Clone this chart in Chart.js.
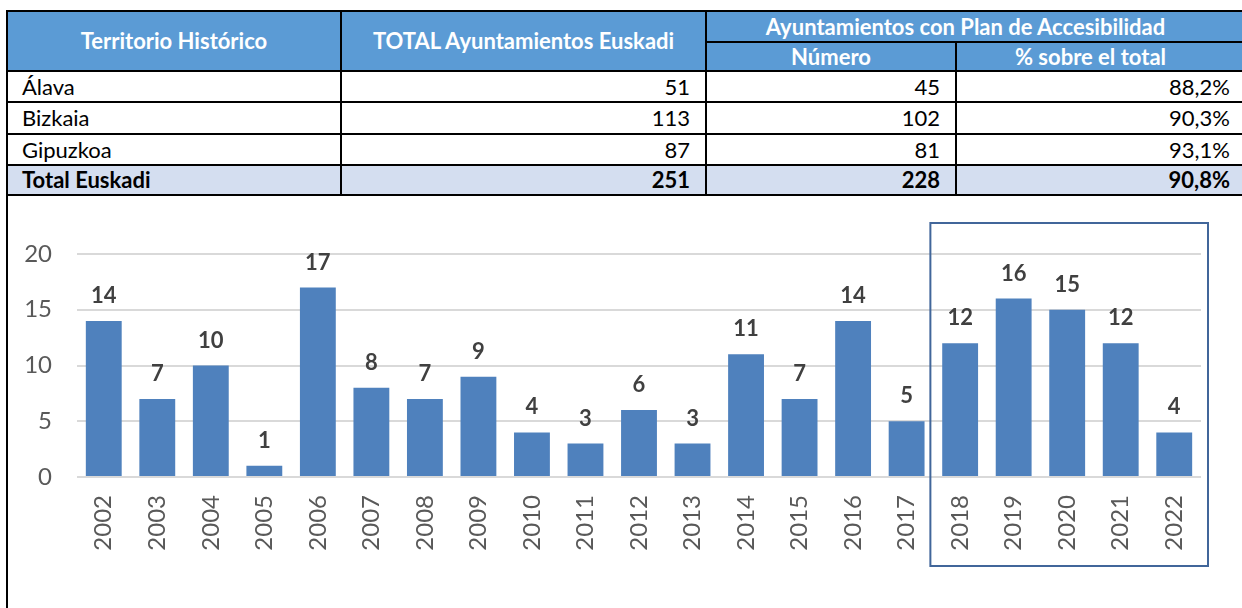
<!DOCTYPE html>
<html>
<head>
<meta charset="utf-8">
<script src="https://cdn.jsdelivr.net/npm/chart.js@4"></script>
<style>
  html { overflow:hidden; }
  html, body { margin:0; padding:0; background:#fff; }
  body { width:1242px; height:608px; overflow:hidden; position:relative; font-family: Lato, "Open Sans", sans-serif; }
  #tw { position:absolute; left:6px; top:10px; width:1300px; }
  table { border-collapse:collapse; table-layout:fixed; width:1258px; }
  td, th { border:2px solid #000; padding:0; font-size:22px; color:#000; white-space:nowrap; overflow:hidden; line-height:1; }
  th { background:#5B9BD5; color:#fff; font-weight:bold; text-align:center; }
  td.l { text-align:left; padding-left:14px; }
  td.r { text-align:right; padding-right:15px; }
  td.p { text-align:right; padding-right:34px; }
  tr.tot td { background:#D4DEF0; font-weight:bold; }
  #chartwrap { position:absolute; left:0; top:194px; width:1242px; height:414px; }
  #leftline { position:absolute; left:6px; top:194px; width:2px; height:414px; background:#000; }
</style>
</head>
<body>
<div id="tw">
<table id="tbl">
  <colgroup><col style="width:334px"><col style="width:365px"><col style="width:250px"><col style="width:309px"></colgroup>
  <tr style="height:31px">
    <th rowspan="2" id="h0"></th>
    <th rowspan="2" id="h1"></th>
    <th colspan="2" id="h2" style="padding-right:40px"></th>
  </tr>
  <tr style="height:29px">
    <th id="h3"></th>
    <th id="h4" style="padding-right:40px"></th>
  </tr>
  <tbody id="tb"></tbody>
</table>
</div>
<div id="leftline"></div>
<div id="chartwrap"><canvas id="c" width="1242" height="414"></canvas></div>
<script>
// ---- table data ----
const tableHeaders = ["Territorio Histórico", "TOTAL Ayuntamientos Euskadi", "Ayuntamientos con Plan de Accesibilidad", "Número", "% sobre el total"];
const territorios = ["Álava", "Bizkaia", "Gipuzkoa", "Total Euskadi"];
const totalAyuntamientos = ["51", "113", "87", "251"];
const numeroPlan = ["45", "102", "81", "228"];
const porcentaje = ["88,2%", "90,3%", "93,1%", "90,8%"];

// ---- chart data ----
const years = ["2002","2003","2004","2005","2006","2007","2008","2009","2010","2011","2012","2013","2014","2015","2016","2017","2018","2019","2020","2021","2022"];
const planes = [14,7,10,1,17,8,7,9,4,3,6,3,11,7,14,5,12,16,15,12,4];
const yTicks = [0,5,10,15,20];
const highlightFrom = "2018";
const highlightTo = "2022";

tableHeaders.forEach((t,i)=>{ document.getElementById('h'+i).textContent = t; });
const tb = document.getElementById('tb');
territorios.forEach((t,i)=>{
  const tr = document.createElement('tr');
  tr.style.height = (i===1 ? '32px' : '31px');
  if (i === territorios.length-1) { tr.className = 'tot'; tr.style.height='30px'; }
  [[t,'l'],[totalAyuntamientos[i],'r'],[numeroPlan[i],'r'],[porcentaje[i],'p']].forEach(([v,c])=>{
    const td = document.createElement('td'); td.className = c; td.textContent = v; tr.appendChild(td);
  });
  tb.appendChild(tr);
});

const labelPlugin = {
  id: 'barLabels',
  afterDatasetsDraw(chart) {
    const ctx = chart.ctx;
    const meta = chart.getDatasetMeta(0);
    ctx.save();
    ctx.font = 'bold 22px Lato, "Open Sans", sans-serif';
    ctx.fillStyle = '#404040';
    ctx.textAlign = 'center';
    ctx.textBaseline = 'middle';
    meta.data.forEach((bar, i) => {
      ctx.fillText(String(planes[i]), bar.x, bar.y - 25);
    });
    ctx.restore();
  }
};

const boxPlugin = {
  id: 'highlightBox',
  afterDraw(chart) {
    const x = chart.scales.x, area = chart.chartArea;
    const i0 = years.indexOf(highlightFrom), i1 = years.indexOf(highlightTo);
    const half = (x.getPixelForValue(1) - x.getPixelForValue(0)) / 2;
    const left = x.getPixelForValue(i0) - half - 3;
    const right = x.getPixelForValue(i1) + half + 7;
    const top = area.top - 31;
    const bottom = area.bottom + 89;
    const ctx = chart.ctx;
    ctx.save();
    ctx.strokeStyle = '#41669A';
    ctx.lineWidth = 2;
    ctx.strokeRect(left, top, right - left, bottom - top);
    ctx.restore();
  }
};

new Chart(document.getElementById('c'), {
  type: 'bar',
  data: {
    labels: years,
    datasets: [{
      data: planes,
      backgroundColor: '#4F81BD',
      borderWidth: 0,
      barPercentage: 0.67,
      categoryPercentage: 1.0
    }]
  },
  options: {
    responsive: false,
    animation: false,
    events: [],
    layout: { padding: { left: 0, top: 60, right: 41, bottom: 0 } },
    plugins: { legend: { display: false }, tooltip: { enabled: false } },
    scales: {
      x: {
        grid: { display: false, drawTicks: false },
        border: { display: false },
        ticks: {
          color: '#595959',
          font: { family: 'Lato, "Open Sans", sans-serif', size: 24 },
          minRotation: 90, maxRotation: 90,
          padding: 18,
          autoSkip: false
        },
        afterFit(s) { s.height = 131; }
      },
      y: {
        min: 0, max: 20,
        afterBuildTicks(s) { s.ticks = yTicks.map(v => ({ value: v })); },
        grid: { color: '#D9D9D9', lineWidth: 2, drawTicks: false },
        border: { display: false },
        ticks: {
          color: '#595959',
          font: { family: 'Lato, "Open Sans", sans-serif', size: 24 },
          padding: 25
        },
        afterFit(s) { s.width = 77; }
      }
    }
  },
  plugins: [labelPlugin, boxPlugin]
});
</script>
</body>
</html>
